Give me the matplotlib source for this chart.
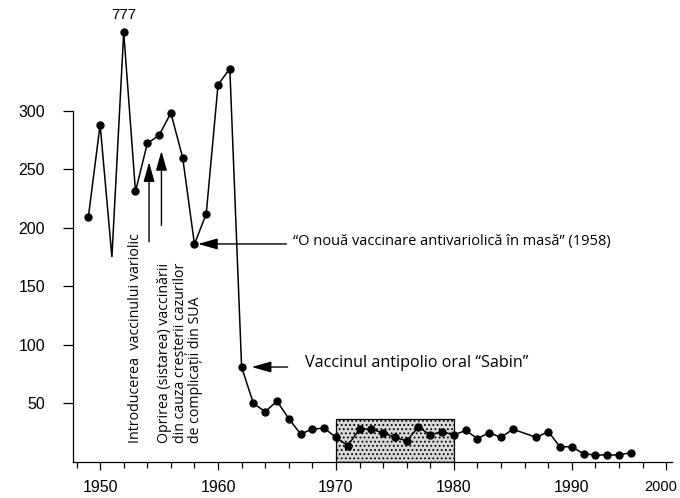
import matplotlib
matplotlib.use('Agg')
import matplotlib.pyplot as plt
from matplotlib.patches import Rectangle
from matplotlib.transforms import ScaledTranslation

# ---------------- data ----------------
years = [1949, 1950, 1951, 1952, 1953, 1954, 1955, 1956, 1957, 1958, 1959,
         1960, 1961, 1962, 1963, 1964, 1965, 1966, 1967, 1968, 1969,
         1970, 1971, 1972, 1973, 1974, 1975, 1976, 1977, 1978, 1979,
         1980, 1981, 1982, 1983, 1984, 1985, 1987, 1988, 1989,
         1990, 1991, 1992, 1993, 1994, 1995]
cases = [209, 288, 175, 777, 231, 272, 279, 298, 260, 186, 212,
         322, 336, 81, 50, 43, 52, 37, 24, 28, 29,
         21, 14, 28, 28, 25, 21, 18, 30, 23, 26,
         23, 27, 20, 25, 21, 28, 21, 26, 13,
         13, 7, 6, 6, 6, 8]
no_marker_years = [1951]
peak_label = '777'
axis_cap = 367          # broken axis: higher values drawn at this height

ytick_values = [50, 100, 150, 200, 250, 300]
xtick_positions = [1950, 1960, 1970, 1980, 1990, 1998]
xtick_labels = ['1950', '1960', '1970', '1980', '1990', '2000']
minor_xticks = [1948, 1952, 1954, 1956, 1958, 1962, 1964, 1966, 1968,
                1972, 1974, 1976, 1978, 1982, 1984, 1986, 1988,
                1992, 1994, 1996]
highlight_start, highlight_end, highlight_top = 1970, 1980, 37

txt_intro = 'Introducerea  vaccinului variolic'
txt_stop = 'Oprirea (sistarea) vaccinării\ndin cauza creșterii cazurilor\nde complicații din SUA'
txt_mass = '\u201cO nouă vaccinare antivariolică în masă\u201d (1958)'
txt_sabin = 'Vaccinul antipolio oral \u201cSabin\u201d'

# ---------------- figure ----------------
ann_font = ['Open Sans', 'DejaVu Sans']
tick_font = ['Liberation Sans', 'DejaVu Sans']
plt.rcParams['hatch.color'] = '#b4b4b4'
plt.rcParams['hatch.linewidth'] = 0.8

fig = plt.figure(figsize=(6.8, 4.98), dpi=100)
ax = fig.add_axes([73 / 680, 36 / 498, 599 / 680, 462 / 498])
ax.set_xlim(1947.7, 1998.5)
ax.set_ylim(0, 394.5)

disp = [min(v, axis_cap) for v in cases]
ax.plot(years, disp, color='black', lw=1.1, zorder=3, solid_joinstyle='miter')
mk_x = [y for y in years if y not in no_marker_years]
mk_y = [d for y, d in zip(years, disp) if y not in no_marker_years]
ax.plot(mk_x, mk_y, 'o', color='black', ms=5.0, zorder=4)

ax.add_patch(Rectangle((highlight_start, 0), highlight_end - highlight_start,
                       highlight_top, facecolor='#d8d8d8', edgecolor='black',
                       lw=0.9, hatch='....', zorder=2))

peak_year = years[cases.index(max(cases))]
ax.text(peak_year, 382, peak_label, ha='center', va='center', fontsize=11,
        family=tick_font)

# spines
for s in ['top', 'right']:
    ax.spines[s].set_visible(False)
ax.spines['left'].set_bounds(0, 300)
ax.spines['left'].set_linewidth(0.9)
ax.spines['bottom'].set_linewidth(0.9)

ax.set_yticks(ytick_values)
ax.set_yticklabels([str(v) for v in ytick_values], family=tick_font)
ax.set_xticks(xtick_positions)
ax.set_xticklabels(xtick_labels, family=tick_font)
ax.set_xticks(minor_xticks, minor=True)
ax.tick_params(axis='y', length=7, width=0.9, pad=13, labelsize=11.5)
ax.tick_params(axis='x', which='major', length=6, width=0.9, pad=7, labelsize=11.5)
ax.tick_params(axis='x', which='minor', length=4, width=0.9)
for lbl in ax.get_xticklabels():
    if lbl.get_text() == xtick_labels[-1]:
        lbl.set_fontsize(10.5)
        lbl.set_transform(lbl.get_transform() +
                          ScaledTranslation(-5 / 100, 0, fig.dpi_scale_trans))

# annotations
ax.text(1952.96, 16.2, txt_intro, rotation=90, ha='center', va='bottom',
        fontsize=10.3, family=ann_font)
ax.text(1956.8, 16.2, txt_stop, rotation=90, ha='center', va='bottom',
        multialignment='left', linespacing=1.05, fontsize=10.2, family=ann_font)

arrow = dict(arrowstyle='-|>,head_length=0.85,head_width=0.24', color='black',
             lw=1.0, shrinkA=0, shrinkB=0, mutation_scale=14)
ax.annotate('', xy=(1954.15, 256), xytext=(1954.15, 188), arrowprops=arrow)
ax.annotate('', xy=(1955.2, 265.6), xytext=(1955.2, 202), arrowprops=arrow)
ax.annotate('', xy=(1958.3, 186.2), xytext=(1965.8, 186.2), arrowprops=arrow)
ax.annotate('', xy=(1962.85, 81.1), xytext=(1965.9, 81.1), arrowprops=arrow)

ax.text(1966.36, 188, txt_mass, ha='left', va='center', fontsize=10.5,
        family=ann_font)
ax.text(1967.4, 84.5, txt_sabin, ha='left', va='center', fontsize=11.6,
        family=ann_font)

fig.savefig('out.png', dpi=100)
